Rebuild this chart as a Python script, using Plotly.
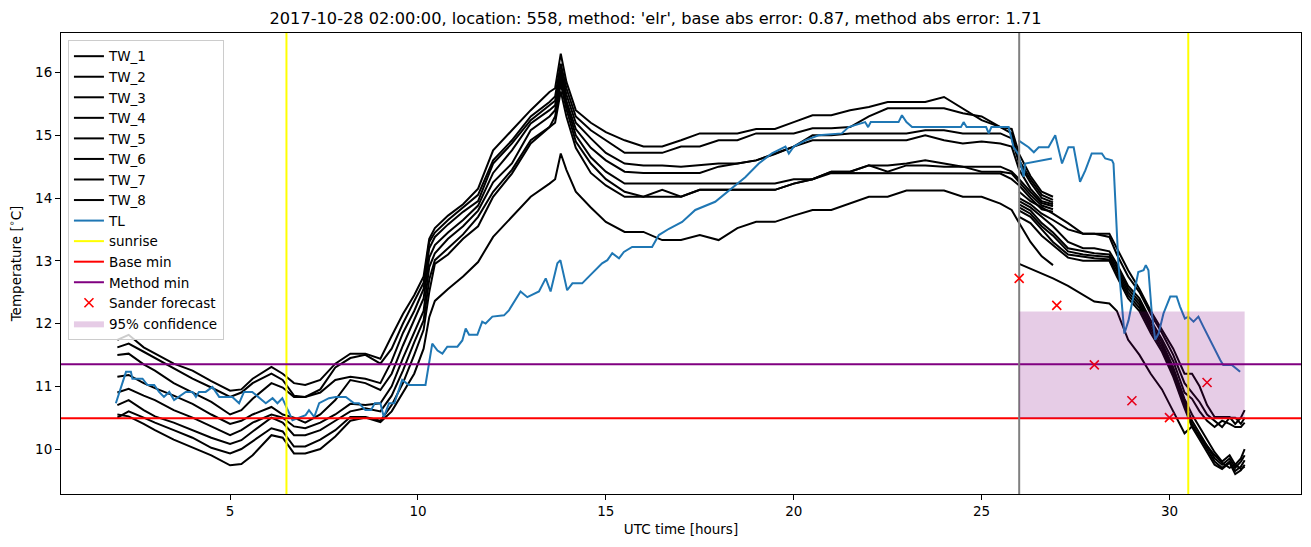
import plotly.graph_objects as go

# ---------------- data ----------------
time_a = [2.0, 2.3, 2.7, 3.0, 3.5, 4.0, 4.5, 5.0, 5.3, 5.6, 6.1, 6.4, 6.7, 7.0, 7.4, 7.8, 8.2, 8.6, 9.0, 9.3,
          9.6, 9.9, 10.15, 10.3, 10.45, 10.8, 11.2, 11.6, 12.0, 12.5, 13.0, 13.5, 13.65, 13.8, 13.95, 14.2, 14.6, 15.0, 15.5, 16.0,
          16.5, 17.0, 17.5, 18.0, 18.5, 19.0, 19.5, 20.0, 20.5, 21.0, 21.5, 22.0, 22.5, 23.0, 23.5, 24.0, 24.5, 25.0, 25.5, 25.8,
          26.0, 26.3, 26.6, 26.9]

tw1_a = [11.74, 11.82, 11.62, 11.52, 11.36, 11.25, 11.08, 10.93, 10.95, 11.12, 11.31, 11.2, 11.05, 11.02, 11.1, 11.36, 11.52, 11.52, 11.44, 11.8,
         12.15, 12.45, 12.75, 13.35, 13.52, 13.72, 13.9, 14.15, 14.76, 15.08, 15.4, 15.69, 15.75, 16.3, 15.85, 15.4, 15.2, 15.05, 14.92, 14.82,
         14.82, 14.92, 15.03, 15.03, 15.03, 15.1, 15.1, 15.21, 15.32, 15.32, 15.4, 15.45, 15.53, 15.53, 15.53, 15.61, 15.43, 15.24, 15.13, 15.1,
         14.7, 14.35, 14.1, 14.02]
tw2_a = [11.62, 11.68, 11.55, 11.45, 11.28, 11.12, 10.98, 10.83, 10.9, 11.05, 11.2, 11.1, 10.85, 10.83, 10.95, 11.3, 11.45, 11.5, 11.36, 11.6,
         12.0, 12.35, 12.65, 13.3, 13.45, 13.65, 13.85, 14.05, 14.6, 14.92, 15.3, 15.53, 15.62, 16.14, 15.75, 15.3, 15.08, 14.92, 14.72, 14.72,
         14.72, 14.82, 14.82, 14.92, 14.92, 15.03, 15.03, 15.03, 15.11, 15.11, 15.13, 15.3, 15.43, 15.43, 15.43, 15.43, 15.35, 15.3, 15.13, 15.03,
         14.6, 14.3, 14.05, 13.97]
tw3_a = [11.5, 11.52, 11.35, 11.25, 11.05, 10.9, 10.75, 10.55, 10.62, 10.8, 11.05, 10.98, 10.83, 10.83, 10.9, 11.1, 11.15, 11.12, 11.05, 11.4,
         11.85, 12.2, 12.55, 13.2, 13.38, 13.58, 13.78, 13.95, 14.55, 14.87, 15.24, 15.48, 15.55, 16.05, 15.65, 15.2, 14.95, 14.72, 14.55, 14.52,
         14.52, 14.5, 14.52, 14.55, 14.55, 14.6, 14.71, 14.82, 15.0, 15.0, 15.03, 15.03, 15.03, 15.03, 15.08, 15.08, 15.03, 15.03, 15.03, 14.95,
         14.55, 14.25, 14.0, 13.93]
tw4_a = [11.15, 11.18, 11.05, 10.97, 10.85, 10.72, 10.55, 10.4, 10.45, 10.55, 10.67, 10.55, 10.5, 10.42, 10.55, 10.78, 11.1, 11.05, 10.94, 11.2,
         11.65, 12.05, 12.4, 13.05, 13.25, 13.45, 13.65, 13.88, 14.4, 14.76, 15.19, 15.4, 15.48, 15.98, 15.55, 15.1, 14.8, 14.6, 14.42, 14.4,
         14.4, 14.4, 14.4, 14.5, 14.55, 14.6, 14.7, 14.82, 14.92, 14.92, 14.92, 14.92, 14.92, 14.92, 15.0, 14.92, 14.87, 14.9, 14.87, 14.82,
         14.45, 14.15, 13.95, 13.9]
tw5_a = [10.9, 10.96, 10.85, 10.78, 10.62, 10.5, 10.36, 10.22, 10.3, 10.42, 10.55, 10.5, 10.36, 10.33, 10.42, 10.55, 10.72, 10.7, 10.73, 11.0,
         11.45, 11.85, 12.2, 12.9, 13.12, 13.35, 13.55, 13.8, 14.25, 14.55, 15.08, 15.3, 15.4, 15.9, 15.5, 15.0, 14.65, 14.42, 14.23, 14.23,
         14.23, 14.23, 14.23, 14.23, 14.23, 14.23, 14.23, 14.3, 14.3, 14.42, 14.42, 14.52, 14.52, 14.55, 14.6, 14.55, 14.5, 14.5, 14.5, 14.42,
         14.3, 14.1, 13.92, 13.87]
tw6_a = [10.7, 10.78, 10.62, 10.52, 10.42, 10.3, 10.18, 10.08, 10.14, 10.28, 10.5, 10.42, 10.22, 10.22, 10.3, 10.45, 10.6, 10.65, 10.6, 10.85,
         11.25, 11.7, 12.05, 12.7, 13.01, 13.2, 13.42, 13.7, 14.1, 14.45, 14.92, 15.13, 15.3, 15.82, 15.42, 14.9, 14.55, 14.3, 14.1, 14.02,
         14.13, 14.02, 14.13, 14.13, 14.13, 14.13, 14.13, 14.23, 14.3, 14.42, 14.42, 14.52, 14.42, 14.52, 14.52, 14.5, 14.5, 14.42, 14.42, 14.39,
         14.25, 14.05, 13.88, 13.82]
tw7_a = [10.5, 10.6, 10.5, 10.42, 10.3, 10.18, 10.02, 9.93, 10.0, 10.12, 10.33, 10.28, 10.04, 10.04, 10.15, 10.3, 10.51, 10.51, 10.45, 10.7,
         11.05, 11.5, 11.9, 12.5, 12.95, 13.1, 13.35, 13.55, 14.02, 14.39, 14.87, 15.13, 15.2, 15.7, 15.3, 14.8, 14.4, 14.2, 14.02, 14.02,
         14.02, 14.02, 14.13, 14.13, 14.13, 14.13, 14.13, 14.23, 14.3, 14.4, 14.4, 14.4, 14.4, 14.4, 14.39, 14.39, 14.39, 14.39, 14.39, 14.3,
         14.2, 14.0, 13.82, 13.78]
tw8_a = [10.55, 10.52, 10.4, 10.3, 10.15, 10.02, 9.9, 9.74, 9.76, 9.9, 10.22, 10.18, 9.93, 9.93, 10.0, 10.2, 10.45, 10.5, 10.43, 10.6,
         10.9, 11.2, 11.6, 12.1, 12.36, 12.55, 12.75, 12.98, 13.38, 13.7, 14.02, 14.23, 14.3, 14.71, 14.45, 14.1, 13.85, 13.62, 13.46, 13.46,
         13.33, 13.33, 13.41, 13.33, 13.52, 13.62, 13.62, 13.72, 13.81, 13.81, 13.91, 14.02, 14.02, 14.12, 14.12, 14.12, 14.02, 14.02, 13.91, 13.81,
         13.6, 13.3, 13.07, 12.93]

time_b = [26.0, 26.3, 26.6, 26.9, 27.3, 27.7, 28.0, 28.4, 28.6, 28.9, 29.2, 29.5, 29.8, 30.1, 30.4, 30.6, 30.8, 31.0, 31.2, 31.4,
          31.6, 31.75, 31.9, 32.0]
tw1_b = [14.1, 13.95, 13.85, 13.75, 13.6, 13.43, 13.43, 13.43, 13.2, 12.85, 12.55, 12.2, 11.9, 11.6, 11.2, 11.2, 11.0, 10.7, 10.51, 10.51,
         10.51, 10.4, 10.5, 10.62]
tw2_b = [14.0, 13.9, 13.75, 13.65, 13.5, 13.43, 13.43, 13.38, 13.1, 12.75, 12.5, 12.15, 11.85, 11.5, 11.05, 10.9, 10.75, 10.55, 10.45, 10.35,
         10.5, 10.5, 10.4, 10.5]
tw3_b = [13.95, 13.85, 13.7, 13.55, 13.3, 13.2, 13.2, 13.15, 12.95, 12.6, 12.4, 12.05, 11.75, 11.4, 10.9, 10.8, 10.6, 10.45, 10.35, 10.45,
         10.4, 10.35, 10.35, 10.42]
tw4_b = [13.9, 13.8, 13.6, 13.45, 13.2, 13.15, 13.12, 13.1, 12.9, 12.55, 12.35, 12.0, 11.7, 11.3, 10.8, 10.55, 10.35, 10.15, 9.95, 9.8,
         9.9, 9.75, 9.85, 10.0]
tw5_b = [13.85, 13.75, 13.55, 13.4, 13.15, 13.1, 13.08, 13.06, 12.85, 12.5, 12.3, 11.95, 11.65, 11.25, 10.75, 10.45, 10.25, 10.05, 9.85, 9.75,
         9.85, 9.7, 9.8, 9.9]
tw6_b = [13.8, 13.7, 13.5, 13.3, 13.1, 13.06, 13.04, 13.02, 12.8, 12.45, 12.25, 11.9, 11.6, 11.2, 10.7, 10.4, 10.2, 10.0, 9.8, 9.7,
         9.8, 9.65, 9.72, 9.82]
tw7_b = [13.7, 13.6, 13.4, 13.25, 13.05, 13.0, 13.0, 13.0, 12.75, 12.4, 12.2, 11.85, 11.55, 11.15, 10.65, 10.35, 10.15, 9.95, 9.75, 9.68,
         9.78, 9.6, 9.66, 9.75]
tw8_b = [12.95, 12.87, 12.8, 12.72, 12.6, 12.45, 12.35, 12.32, 12.2, 11.74, 11.5, 11.2, 10.95, 10.6, 10.25, 10.36, 10.2, 10.05, 9.9, 9.78,
         9.7, 9.75, 9.68, 9.72]

tl_a_x = [1.96, 2.09, 2.23, 2.36, 2.4, 2.67, 2.8, 2.98, 3.11, 3.24, 3.38, 3.51, 3.64, 3.82, 4.0, 4.09, 4.17, 4.35, 4.53, 4.71,
          5.06, 5.24, 5.37, 5.59, 5.95, 6.13, 6.26, 6.39, 6.66, 6.79, 7.01, 7.1, 7.24, 7.37, 7.63, 7.81, 8.08, 8.3, 8.43, 8.6,
          8.75, 8.85, 9.0, 9.09, 9.23, 9.37, 9.58, 9.76, 10.2, 10.38, 10.52, 10.65, 10.78, 11.05, 11.18, 11.27, 11.36, 11.58, 11.71, 11.8,
          11.98, 12.29, 12.42, 12.73, 12.91, 13.22, 13.4, 13.53, 13.71, 13.79, 13.97, 14.11, 14.37, 14.5, 14.73, 14.9, 15.04, 15.17, 15.35, 15.48,
          15.7, 16.23, 16.41, 16.68, 17.03, 17.38, 17.91, 18.27, 18.71, 19.07, 19.42, 19.78, 19.87, 20.0, 20.31, 20.66, 21.28, 21.46, 21.9, 21.98,
          22.05, 22.79, 22.88, 23.0, 23.15, 24.45, 24.52, 24.6, 25.12, 25.19, 25.26, 25.72, 25.85, 25.98, 26.12, 26.16, 26.87]
tl_a_y = [10.73, 10.99, 11.23, 11.23, 11.12, 11.12, 11.02, 11.02, 10.91, 10.83, 10.91, 10.78, 10.83, 10.91, 10.91, 10.83, 10.91, 10.91, 10.99, 10.83,
          10.83, 10.73, 10.91, 10.91, 10.73, 10.81, 10.73, 10.81, 10.46, 10.49, 10.54, 10.62, 10.51, 10.73, 10.81, 10.83, 10.83, 10.73, 10.73, 10.62,
          10.62, 10.73, 10.73, 10.51, 10.73, 10.73, 11.1, 11.02, 11.02, 11.68, 11.57, 11.52, 11.63, 11.63, 11.73, 11.92, 11.82, 11.82, 12.03, 12.0,
          12.11, 12.13, 12.21, 12.51, 12.42, 12.51, 12.72, 12.51, 12.96, 13.01, 12.53, 12.64, 12.64, 12.72, 12.85, 12.96, 13.01, 13.12, 13.04, 13.14,
          13.22, 13.22, 13.41, 13.51, 13.62, 13.81, 13.94, 14.12, 14.33, 14.55, 14.71, 14.82, 14.71, 14.82, 14.92, 15.0, 15.03, 15.13, 15.21, 15.13,
          15.21, 15.21, 15.32, 15.21, 15.13, 15.13, 15.21, 15.13, 15.13, 15.03, 15.13, 15.13, 14.81, 14.7, 14.34, 14.55, 14.63]

tl_b_x = [25.98, 26.25, 26.39, 26.52, 26.78, 26.96, 27.14, 27.31, 27.45, 27.62, 27.76, 27.93, 28.2, 28.29, 28.47, 28.51, 28.64, 28.8, 28.91, 29.04,
          29.17, 29.31, 29.37, 29.44, 29.53, 29.62, 29.71, 29.84, 30.02, 30.19, 30.28, 30.41, 30.5, 30.64, 30.77, 30.9, 31.03, 31.21, 31.35, 31.43,
          31.66, 31.88]
tl_b_y = [14.92, 14.81, 14.73, 14.81, 14.81, 15.0, 14.55, 14.81, 14.81, 14.26, 14.44, 14.71, 14.71, 14.63, 14.6, 14.55, 12.96, 11.84, 12.05, 12.42,
          12.82, 12.85, 12.93, 12.85, 12.16, 11.74, 11.84, 12.16, 12.43, 12.43, 12.27, 12.08, 12.11, 12.03, 12.11, 11.95, 11.79, 11.58, 11.42, 11.34,
          11.34, 11.23]

sunrise_times = [6.5, 30.5]
forecast_start = 26.0
forecast_end = 32.0
base_min = 10.49
method_min = 11.35
sander_x = [26, 27, 28, 29, 30, 31]
sander_y = [12.72, 12.29, 11.34, 10.77, 10.5, 11.06]
conf_low = 10.49
conf_high = 12.19

x_range = [0.5, 33.5]
y_range = [9.283, 16.63]

title_text = "2017-10-28 02:00:00, location: 558, method: 'elr', base abs error: 0.87, method abs error: 1.71"

# ---------------- figure ----------------
FONT = "DejaVu Sans"
fig = go.Figure()

tw_a = [tw1_a, tw2_a, tw3_a, tw4_a, tw5_a, tw6_a, tw7_a, tw8_a]
tw_b = [tw1_b, tw2_b, tw3_b, tw4_b, tw5_b, tw6_b, tw7_b, tw8_b]
rank = 1
for i, (ya, yb) in enumerate(zip(tw_a, tw_b)):
    fig.add_trace(go.Scatter(
        x=time_a + [None] + time_b, y=ya + [None] + yb, mode="lines",
        line=dict(color="black", width=2), name=f"TW_{i+1}",
        legendgroup=f"g{rank}", legendrank=rank, hoverinfo="skip"))
    rank += 1

fig.add_trace(go.Scatter(
    x=tl_a_x + [None] + tl_b_x, y=tl_a_y + [None] + tl_b_y, mode="lines",
    line=dict(color="#1f77b4", width=2), name="TL",
    legendgroup=f"g{rank}", legendrank=rank, hoverinfo="skip"))
rank += 1

# sunrise vertical lines
sx, sy = [], []
for t in sunrise_times:
    sx += [t, t, None]
    sy += [y_range[0], y_range[1], None]
fig.add_trace(go.Scatter(x=sx, y=sy, mode="lines", line=dict(color="yellow", width=2),
                         name="sunrise", legendgroup=f"g{rank}", legendrank=rank, hoverinfo="skip"))
rank += 1

fig.add_trace(go.Scatter(x=x_range, y=[base_min, base_min], mode="lines", line=dict(color="red", width=2),
                         name="Base min", legendgroup=f"g{rank}", legendrank=rank, hoverinfo="skip"))
rank += 1
fig.add_trace(go.Scatter(x=x_range, y=[method_min, method_min], mode="lines", line=dict(color="purple", width=2),
                         name="Method min", legendgroup=f"g{rank}", legendrank=rank, hoverinfo="skip"))
rank += 1

# forecast start (grey vertical line)
fig.add_trace(go.Scatter(x=[forecast_start, forecast_start], y=y_range, mode="lines",
                         line=dict(color="grey", width=2), showlegend=False, hoverinfo="skip"))

fig.add_trace(go.Scatter(x=sander_x, y=sander_y, mode="markers",
                         marker=dict(symbol="x-thin", size=9, line=dict(color="red", width=1.6), color="red"),
                         name="Sander forecast", legendgroup=f"g{rank}", legendrank=rank, hoverinfo="skip"))
rank += 1

fig.add_trace(go.Scatter(x=[forecast_start, forecast_end, forecast_end, forecast_start, forecast_start],
                         y=[conf_low, conf_low, conf_high, conf_high, conf_low],
                         mode="lines", fill="toself", fillcolor="rgba(128,0,128,0.2)",
                         line=dict(width=0, color="rgba(128,0,128,0)"),
                         name="95% confidence", legendgroup=f"g{rank}", legendrank=rank, hoverinfo="skip"))

axis_common = dict(showline=True, linecolor="black", linewidth=1.1, mirror=True, ticks="outside",
                   ticklen=5, tickwidth=1.1, tickcolor="black", showgrid=False, zeroline=False,
                   tickfont=dict(family=FONT, size=13.5, color="black"))

fig.update_layout(
    width=1311, height=547,
    margin=dict(l=61, r=10, t=33, b=53),
    paper_bgcolor="white", plot_bgcolor="white",
    font=dict(family=FONT, size=13.5, color="black"),
    title=dict(text=title_text, x=0.5, xanchor="center", y=0.967, yanchor="middle",
               font=dict(family=FONT, size=16.2, color="black")),
    xaxis=dict(range=x_range, tickmode="linear", tick0=0, dtick=5,
               title=dict(text="UTC time [hours]", font=dict(family=FONT, size=13.5), standoff=6),
               **axis_common),
    yaxis=dict(range=y_range, tickmode="linear", tick0=10, dtick=1,
               title=dict(text="Temperature [<sup>∘</sup>C]", font=dict(family=FONT, size=13.5), standoff=10),
               **axis_common),
    legend=dict(x=0.0056, y=0.985, xanchor="left", yanchor="top",
                bgcolor="rgba(255,255,255,0.8)", bordercolor="#cccccc", borderwidth=1,
                font=dict(family=FONT, size=13.5, color="black"), tracegroupgap=0,
                itemwidth=30),
    showlegend=True,
)

fig.write_html("out.html")
